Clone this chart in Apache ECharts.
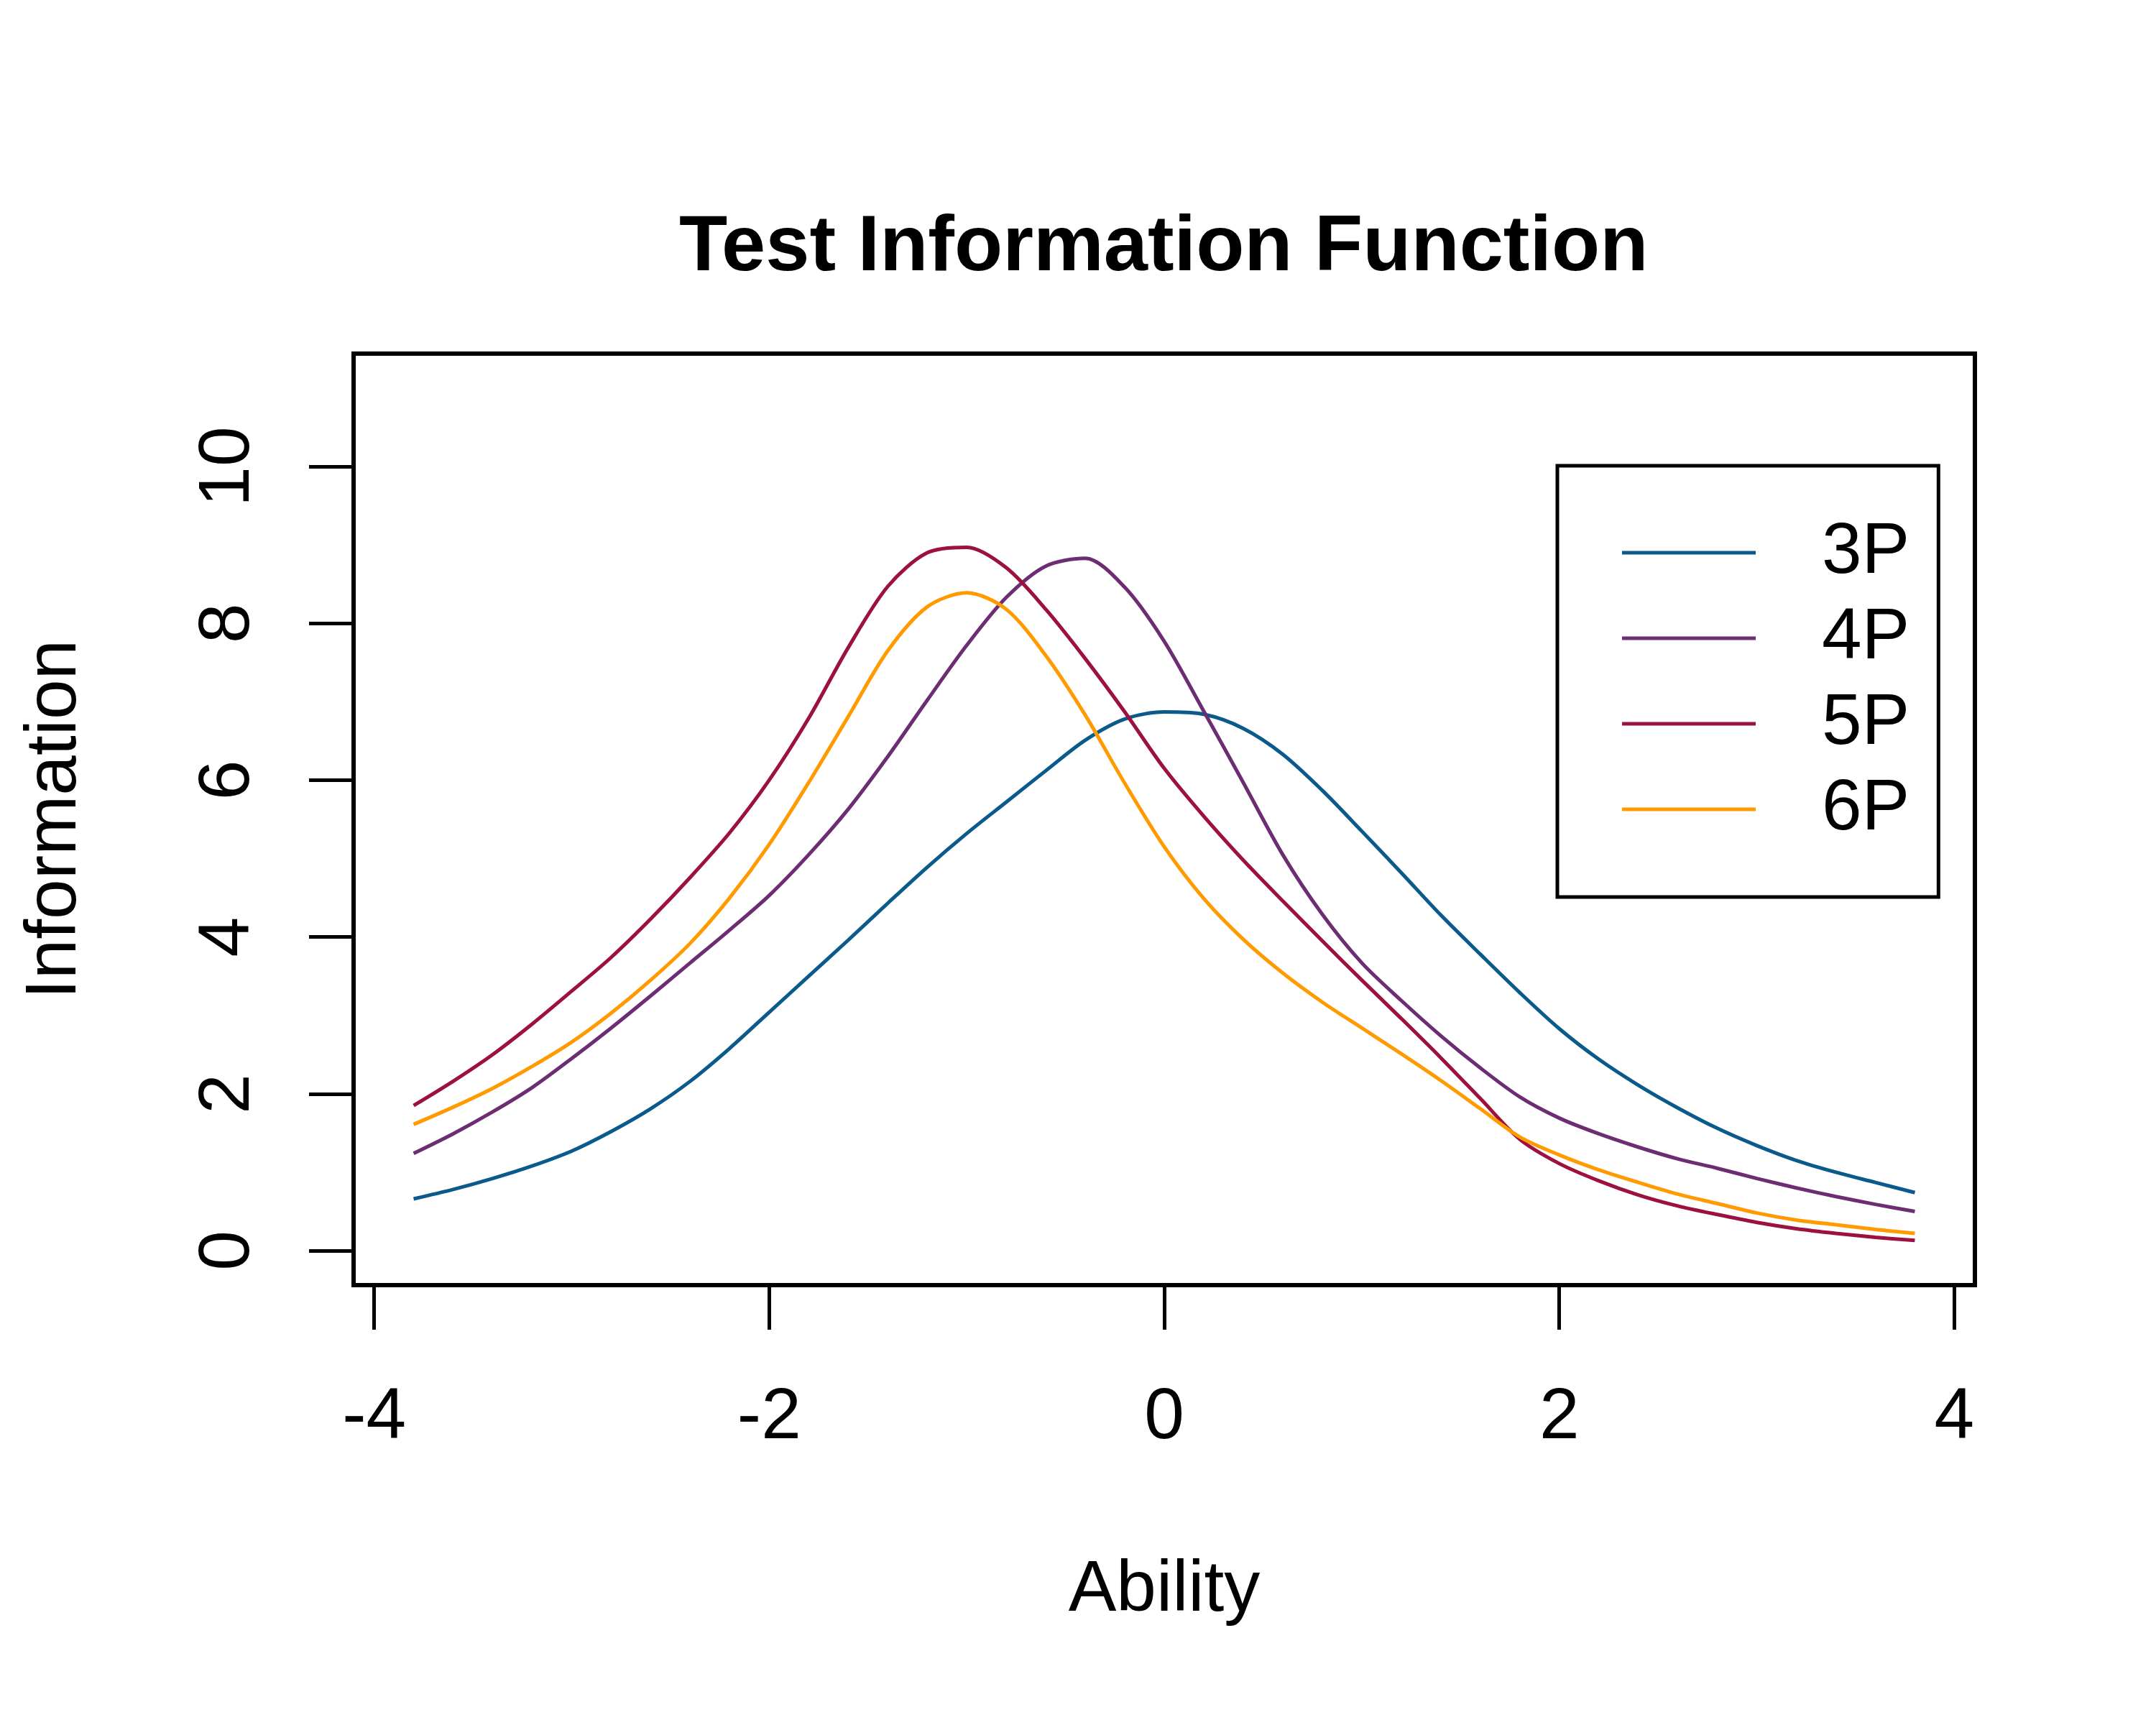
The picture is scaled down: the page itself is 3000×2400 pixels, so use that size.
<!DOCTYPE html>
<html>
<head>
<meta charset="utf-8">
<script src="https://cdn.jsdelivr.net/npm/echarts@6/dist/echarts.min.js"></script>
<style>
html, body { margin: 0; padding: 0; background: #ffffff; }
#chart { width: 3000px; height: 2400px; }
</style>
</head>
<body>
<div id="chart"></div>
<script>
// Ability grid (x values)
const abilities = [-3.8, -3.6, -3.4, -3.2, -3.0, -2.8, -2.6, -2.4, -2.2, -2.0,
  -1.8, -1.6, -1.4, -1.2, -1.0, -0.8, -0.6, -0.4, -0.2, 0.0,
  0.2, 0.4, 0.6, 0.8, 1.0, 1.2, 1.4, 1.6, 1.8, 2.0,
  2.2, 2.4, 2.6, 2.8, 3.0, 3.2, 3.4, 3.6, 3.8];

// Test information
const info3P = [0.66, 0.78, 0.92, 1.08, 1.27, 1.52, 1.81, 2.16, 2.58, 3.04,
  3.50, 3.96, 4.43, 4.89, 5.32, 5.72, 6.12, 6.51, 6.78, 6.87,
  6.84, 6.66, 6.33, 5.87, 5.35, 4.82, 4.28, 3.78, 3.29, 2.83,
  2.44, 2.11, 1.82, 1.56, 1.34, 1.15, 1.00, 0.87, 0.74];
const info4P = [1.24, 1.49, 1.77, 2.08, 2.45, 2.84, 3.25, 3.67, 4.09, 4.53,
  5.05, 5.63, 6.30, 7.02, 7.72, 8.33, 8.73, 8.83, 8.46, 7.77,
  6.88, 5.97, 5.05, 4.29, 3.67, 3.19, 2.74, 2.33, 1.96, 1.69,
  1.49, 1.32, 1.17, 1.05, 0.92, 0.80, 0.69, 0.59, 0.50];
const info5P = [1.85, 2.16, 2.50, 2.89, 3.31, 3.74, 4.23, 4.76, 5.33, 6.00,
  6.79, 7.69, 8.47, 8.90, 8.97, 8.71, 8.18, 7.55, 6.87, 6.15,
  5.54, 4.98, 4.46, 3.95, 3.45, 2.96, 2.46, 1.94, 1.42, 1.11,
  0.89, 0.71, 0.57, 0.46, 0.36, 0.28, 0.22, 0.17, 0.13];
const info6P = [1.61, 1.83, 2.07, 2.35, 2.66, 3.03, 3.45, 3.92, 4.50, 5.18,
  5.97, 6.81, 7.65, 8.21, 8.39, 8.18, 7.59, 6.83, 5.96, 5.15,
  4.49, 3.97, 3.54, 3.17, 2.84, 2.51, 2.17, 1.81, 1.45, 1.22,
  1.03, 0.87, 0.72, 0.60, 0.48, 0.39, 0.33, 0.27, 0.22];

const seriesNames = ['3P', '4P', '5P', '6P'];
const seriesValues = [info3P, info4P, info5P, info6P];
const seriesColors = ['#0B5A8C', '#6D2D72', '#9C113E', '#FF9A00'];

const xTicks = [-4, -2, 0, 2, 4];
const yTicks = [0, 2, 4, 6, 8, 10];

const FONT = 'Liberation Sans, Arial, Helvetica, sans-serif';

const chart = echarts.init(document.getElementById('chart'), null, {
  renderer: 'canvas', width: 3000, height: 2400
});

const option = {
  animation: false,
  backgroundColor: '#ffffff',
  title: {
    text: 'Test Information Function',
    left: 945,
    top: 291,
    padding: 0,
    textStyle: { fontFamily: FONT, fontSize: 110, fontWeight: 'bold', color: '#000000' }
  },
  legend: {
    data: seriesNames,
    orient: 'vertical',
    left: 2167,
    top: 648,
    padding: [71, 40, 72, 90],
    itemWidth: 186,
    itemHeight: 5,
    itemGap: 19,
    icon: 'rect',
    borderColor: '#000000',
    borderWidth: 5,
    selectedMode: false,
    textStyle: {
      fontFamily: FONT, fontSize: 100, lineHeight: 100, color: '#000000',
      padding: [0, 0, 0, 87]
    }
  },
  grid: {
    left: 492, right: 252, top: 492, bottom: 612,
    show: true, borderColor: '#000000', borderWidth: 6,
    backgroundColor: 'transparent'
  },
  xAxis: {
    type: 'value',
    min: -4.104, max: 4.104,
    name: 'Ability',
    nameLocation: 'middle',
    nameGap: 375,
    nameTextStyle: { fontFamily: FONT, fontSize: 100, color: '#000000' },
    axisLine: { show: false, onZero: false },
    splitLine: { show: false },
    axisTick: {
      show: true, customValues: xTicks, length: 62,
      lineStyle: { color: '#000000', width: 5 }
    },
    axisLabel: {
      customValues: xTicks, margin: 135,
      fontFamily: FONT, fontSize: 100, color: '#000000'
    }
  },
  yAxis: {
    type: 'value',
    min: -0.44, max: 11.44,
    name: 'Information',
    nameLocation: 'middle',
    nameRotate: 90,
    nameGap: 365,
    nameTextStyle: { fontFamily: FONT, fontSize: 100, color: '#000000' },
    axisLine: { show: false, onZero: false },
    splitLine: { show: false },
    axisTick: {
      show: true, customValues: yTicks, length: 62,
      lineStyle: { color: '#000000', width: 5 }
    },
    axisLabel: {
      customValues: yTicks, margin: 124, rotate: 90,
      fontFamily: FONT, fontSize: 100, color: '#000000'
    }
  },
  series: seriesNames.map((name, k) => ({
    name: name,
    type: 'line',
    data: abilities.map((x, i) => [x, seriesValues[k][i]]),
    smooth: 0.3,
    showSymbol: false,
    symbol: 'none',
    color: seriesColors[k],
    lineStyle: { color: seriesColors[k], width: 5 },
    itemStyle: { color: seriesColors[k] },
    z: 2 + k
  }))
};

chart.setOption(option);
</script>
</body>
</html>
